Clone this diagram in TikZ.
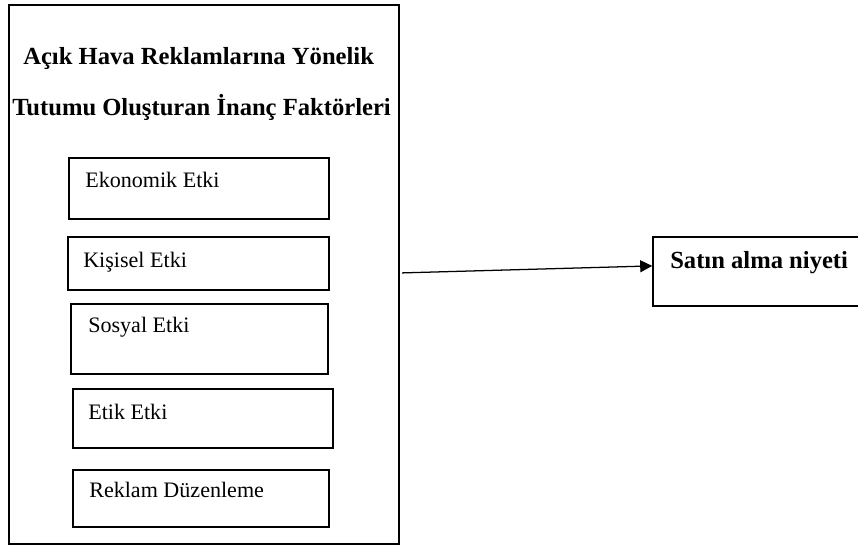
\documentclass[tikz,border=0pt]{standalone}
\usepackage{fontspec}
\setmainfont{Liberation Serif}
\usetikzlibrary{arrows.meta}

\begin{document}
\begin{tikzpicture}[
    x=0.025cm, y=-0.025cm,
    box/.style={
      rectangle,
      draw=black,
      line width=1.1pt
    },
    lbl/.style={
      anchor=base west,
      inner sep=0pt,
      font=\fontsize{15.7}{19}\selectfont
    },
    head/.style={
      anchor=base west,
      inner sep=0pt,
      font=\fontsize{17.5}{21}\selectfont\bfseries
    }
  ]
  \path[use as bounding box, clip] (0,0) rectangle (858,548);

  \node (outer) at (204, 274.5) [box, minimum width=9.75cm, minimum height=13.475cm] {};
  \node (head1) at (23, 64)  [head] {Açık Hava Reklamlarına Yönelik};
  \node (head2) at (12, 115) [head] {Tutumu Oluşturan İnanç Faktörleri};

  \node (eko)  at (199, 188.5)   [box, minimum width=6.5cm,   minimum height=1.525cm] {};
  \node (kis)  at (198.5, 263.5) [box, minimum width=6.525cm, minimum height=1.325cm] {};
  \node (sos)  at (199.5, 339)   [box, minimum width=6.425cm, minimum height=1.75cm] {};
  \node (etik) at (203, 418.5)   [box, minimum width=6.5cm,   minimum height=1.475cm] {};
  \node (rek)  at (201, 498.5)   [box, minimum width=6.4cm,   minimum height=1.425cm] {};

  \node (ekot)  at (85, 187) [lbl] {Ekonomik Etki};
  \node (kist)  at (83, 267) [lbl] {Kişisel Etki};
  \node (sost)  at (88, 332) [lbl] {Sosyal Etki};
  \node (etikt) at (88, 419) [lbl] {Etik Etki};
  \node (rekt)  at (89, 497) [lbl] {Reklam Düzenleme};

  \node (niyet)  at (776.5, 271.5) [box, minimum width=6.175cm, minimum height=1.725cm] {};
  \node (niyett) at (670, 268) [head] {Satın alma niyeti};

  \draw[-{Triangle[length=0.3cm, width=0.3cm]}, line width=0.9pt]
    ([xshift=0.06cm, yshift=0.04cm]outer.east) -- ([yshift=0.14cm]niyet.west);
\end{tikzpicture}
\end{document}
